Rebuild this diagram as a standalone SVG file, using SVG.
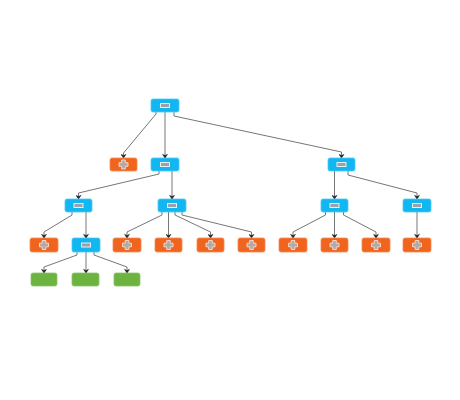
<svg xmlns="http://www.w3.org/2000/svg" width="460" height="400" viewBox="0 0 460 400">
<style>
.b{fill:#12b6f0;stroke:#4cc9f5;stroke-width:0.8}
.o{fill:#f0641e;stroke:#f48a55;stroke-width:0.8}
.g{fill:#6db33f;stroke:#8cc46a;stroke-width:0.8}
.mi{fill:#a0a0a8;stroke:#e8eef2;stroke-width:1}
.pl{fill:#b0aaa8;stroke:#f6e0d6;stroke-width:0.9}
.e{fill:none;stroke:#666;stroke-width:0.9}
</style>
<defs>
<marker id="ar" viewBox="0 0 10 10" refX="9" refY="5" markerWidth="6" markerHeight="6" orient="auto" markerUnits="userSpaceOnUse">
<path d="M3,1 L9,5 L3,9 L5,5 Z" fill="#222" stroke="#222" stroke-width="1"/>
</marker>
<g id="minus"><rect x="-4.5" y="-2" width="9" height="4" class="mi"/></g>
<g id="plus"><path d="M-1.8,-4.5 H1.8 V-1.8 H4.5 V1.8 H1.8 V4.5 H-1.8 V1.8 H-4.5 V-1.8 H-1.8 Z" class="pl"/></g>
</defs>
<g id="connectors">
<path class="e" marker-end="url(#ar)" d="M156,112 V114 L123.5,153 V158"/>
<path class="e" marker-end="url(#ar)" d="M165,112 V158"/>
<path class="e" marker-end="url(#ar)" d="M174,112 V116 L341.5,152 V158"/>
<path class="e" marker-end="url(#ar)" d="M159,171 V174 L78.5,193 V199"/>
<path class="e" marker-end="url(#ar)" d="M172,171 V199"/>
<path class="e" marker-end="url(#ar)" d="M334.5,171 V199"/>
<path class="e" marker-end="url(#ar)" d="M348,171 V175 L417,193 V199"/>
<path class="e" marker-end="url(#ar)" d="M72,212 V215 L44,232 V238"/>
<path class="e" marker-end="url(#ar)" d="M86,212 V238"/>
<path class="e" marker-end="url(#ar)" d="M162,212 V215 L127,232 V238"/>
<path class="e" marker-end="url(#ar)" d="M168.5,212 V238"/>
<path class="e" marker-end="url(#ar)" d="M175,212 V215 L210.5,232 V238"/>
<path class="e" marker-end="url(#ar)" d="M182,212 V215 L251.5,232 V238"/>
<path class="e" marker-end="url(#ar)" d="M325.5,212 V215 L293,232 V238"/>
<path class="e" marker-end="url(#ar)" d="M334.5,212 V238"/>
<path class="e" marker-end="url(#ar)" d="M343.5,212 V215 L376,232 V238"/>
<path class="e" marker-end="url(#ar)" d="M417,212 V238"/>
<path class="e" marker-end="url(#ar)" d="M77,252 V255 L44,267 V273"/>
<path class="e" marker-end="url(#ar)" d="M86,252 V273"/>
<path class="e" marker-end="url(#ar)" d="M94,252 V255 L127,267 V273"/>
</g>
<g id="n0"><rect class="b" x="151" y="99" width="28" height="13" rx="2"/><use href="#minus" x="165" y="105.5"/></g>
<g id="n1"><rect class="o" x="110" y="158" width="27" height="13" rx="2"/><use href="#plus" x="123.5" y="164.5"/></g>
<g id="n2"><rect class="b" x="151" y="158" width="28" height="13" rx="2"/><use href="#minus" x="165" y="164.5"/></g>
<g id="n3"><rect class="b" x="328" y="158" width="27" height="13" rx="2"/><use href="#minus" x="341.5" y="164.5"/></g>
<g id="n4"><rect class="b" x="65" y="199" width="27" height="13" rx="2"/><use href="#minus" x="78.5" y="205.5"/></g>
<g id="n5"><rect class="b" x="158" y="199" width="28" height="13" rx="2"/><use href="#minus" x="172" y="205.5"/></g>
<g id="n6"><rect class="b" x="321" y="199" width="27" height="13" rx="2"/><use href="#minus" x="334.5" y="205.5"/></g>
<g id="n7"><rect class="b" x="403" y="199" width="28" height="13" rx="2"/><use href="#minus" x="417" y="205.5"/></g>
<g id="n8"><rect class="o" x="30" y="238" width="28" height="14" rx="2"/><use href="#plus" x="44" y="245"/></g>
<g id="n9"><rect class="b" x="72" y="238" width="28" height="14" rx="2"/><use href="#minus" x="86" y="245"/></g>
<g id="n10"><rect class="o" x="113" y="238" width="28" height="14" rx="2"/><use href="#plus" x="127" y="245"/></g>
<g id="n11"><rect class="o" x="155" y="238" width="27" height="14" rx="2"/><use href="#plus" x="168.5" y="245"/></g>
<g id="n12"><rect class="o" x="197" y="238" width="27" height="14" rx="2"/><use href="#plus" x="210.5" y="245"/></g>
<g id="n13"><rect class="o" x="238" y="238" width="27" height="14" rx="2"/><use href="#plus" x="251.5" y="245"/></g>
<g id="n14"><rect class="o" x="279" y="238" width="28" height="14" rx="2"/><use href="#plus" x="293" y="245"/></g>
<g id="n15"><rect class="o" x="321" y="238" width="27" height="14" rx="2"/><use href="#plus" x="334.5" y="245"/></g>
<g id="n16"><rect class="o" x="362" y="238" width="28" height="14" rx="2"/><use href="#plus" x="376" y="245"/></g>
<g id="n17"><rect class="o" x="403" y="238" width="28" height="14" rx="2"/><use href="#plus" x="417" y="245"/></g>
<g id="n18"><rect class="g" x="31" y="273" width="26" height="13" rx="2"/></g>
<g id="n19"><rect class="g" x="72" y="273" width="27" height="13" rx="2"/></g>
<g id="n20"><rect class="g" x="114" y="273" width="26" height="13" rx="2"/></g>
</svg>
